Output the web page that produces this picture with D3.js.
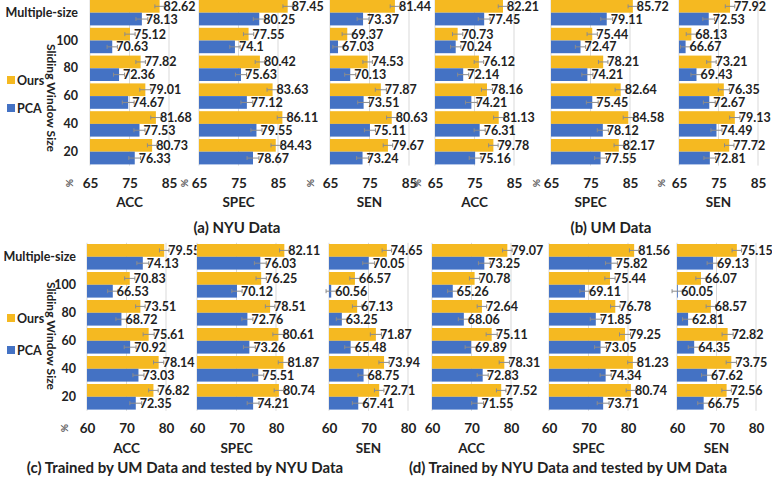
<!DOCTYPE html>
<html>
<head>
<meta charset="utf-8">
<script src="https://cdn.jsdelivr.net/npm/d3@7"></script>
<style>
  body { margin: 0; background: #fff; }
  svg { display: block; }
  text { font-family: Lato, "Open Sans", sans-serif; font-weight: bold; fill: #222; }
</style>
</head>
<body>
<svg id="chart" width="772" height="479"></svg>
<script>
// Window sizes (rows of every bar group) and metrics (one small plot each)
const categories = ["Multiple-size", "100", "80", "60", "40", "20"];
const metrics = ["ACC", "SPEC", "SEN"];
const seriesNames = ["Ours", "PCA"];
const topTicks = [65, 75, 85];
const bottomTicks = [60, 70, 80];

// Each list: rows are ACC, SPEC, SEN; columns follow `categories`
const nyuOurs = [
  [82.62, 75.12, 77.82, 79.01, 81.68, 80.73],
  [87.45, 77.55, 80.42, 83.63, 86.11, 84.43],
  [81.44, 69.37, 74.53, 77.87, 80.63, 79.67]
];
const nyuPca = [
  [78.13, 70.63, 72.36, 74.67, 77.53, 76.33],
  [80.25, 74.1, 75.63, 77.12, 79.55, 78.67],
  [73.37, 67.03, 70.13, 73.51, 75.11, 73.24]
];
const umOurs = [
  [82.21, 70.73, 76.12, 78.16, 81.13, 79.78],
  [85.72, 75.44, 78.21, 82.64, 84.58, 82.17],
  [77.92, 68.13, 73.21, 76.35, 79.13, 77.72]
];
const umPca = [
  [77.45, 70.24, 72.14, 74.21, 76.31, 75.16],
  [79.11, 72.47, 74.21, 75.45, 78.12, 77.55],
  [72.53, 66.67, 69.43, 72.67, 74.49, 72.81]
];
const umToNyuOurs = [
  [79.55, 70.83, 73.51, 75.61, 78.14, 76.82],
  [82.11, 76.25, 78.51, 80.61, 81.87, 80.74],
  [74.65, 66.57, 67.13, 71.87, 73.94, 72.71]
];
const umToNyuPca = [
  [74.13, 66.53, 68.72, 70.92, 73.03, 72.35],
  [76.03, 70.12, 72.76, 73.26, 75.51, 74.21],
  [70.05, 60.56, 63.25, 65.48, 68.75, 67.41]
];
const nyuToUmOurs = [
  [79.07, 70.78, 72.64, 75.11, 78.31, 77.52],
  [81.56, 75.44, 76.78, 79.25, 81.23, 80.74],
  [75.15, 66.07, 68.57, 72.82, 73.75, 72.56]
];
const nyuToUmPca = [
  [73.25, 65.26, 68.06, 69.89, 72.83, 71.55],
  [75.82, 69.11, 71.85, 73.05, 74.34, 73.71],
  [69.13, 60.05, 62.81, 64.35, 67.62, 66.75]
];
// Standard deviations drawn as error bars (per window size)
const errOurs = [1.2, 1.3, 1.2, 1.4, 1.3, 1.2];
const errPca = [1.5, 1.3, 1.4, 1.5, 1.4, 1.5];

const panelTitles = [
  "(a) NYU Data",
  "(b) UM Data",
  "(c) Trained by UM Data and tested by NYU Data",
  "(d) Trained by NYU Data and tested by UM Data"
];

const colors = { Ours: "#F5B921", PCA: "#4472C4" };

// Layout
const rows = [
  { y0: -1.2, y1: 165.6, tickY: 183, metricY: 202, titleY: 228, legendY: [80, 108],
    axisTitleY: 98, catRight: 78, domain: [65, 90], ticks: topTicks },
  { y0: 242.8, y1: 410.8, tickY: 428, metricY: 448, titleY: 468, legendY: [318, 350],
    axisTitleY: 336, catRight: 76, domain: [60, 85], ticks: bottomTicks }
];
const panels = [
  { title: panelTitles[0], ours: nyuOurs, pca: nyuPca, row: 0, lefts: [90, 199, 330],
    pct: [-20, -14, -19], titleX: 237, first: true },
  { title: panelTitles[1], ours: umOurs, pca: umPca, row: 0, lefts: [435, 551, 679],
    pct: [-17, -14, -17], titleX: 611, first: false },
  { title: panelTitles[2], ours: umToNyuOurs, pca: umToNyuPca, row: 1, lefts: [87, 197, 329],
    pct: [-22, null, null], titleX: 185, first: true },
  { title: panelTitles[3], ours: nyuToUmOurs, pca: nyuToUmPca, row: 1, lefts: [432, 549, 677],
    pct: [null, null, null], titleX: 568, first: false }
];
const plotWidth = 98.75;

const svg = d3.select("#chart");

panels.forEach(panel => {
  const row = rows[panel.row];
  const yGroup = d3.scaleBand().domain(categories).range([row.y0, row.y1])
    .paddingInner(0.086).paddingOuter(0.043);
  const ySeries = d3.scaleBand().domain(seriesNames).range([0, yGroup.bandwidth()]);

  metrics.forEach((metric, mi) => {
    const x0 = panel.lefts[mi];
    const x = d3.scaleLinear().domain(row.domain).range([x0, x0 + plotWidth]);
    const g = svg.append("g");

    // vertical gridlines incl. the value axis origin
    g.selectAll("line.grid").data([row.domain[0]].concat(row.ticks.slice(1)))
      .join("line").attr("class", "grid")
      .attr("x1", d => x(d)).attr("x2", d => x(d))
      .attr("y1", row.y0).attr("y2", row.y1)
      .attr("stroke", "#d9d9d9").attr("stroke-width", 1);

    const records = [];
    categories.forEach((c, ci) => {
      records.push({ cat: c, s: "Ours", v: panel.ours[mi][ci], e: errOurs[ci] });
      records.push({ cat: c, s: "PCA", v: panel.pca[mi][ci], e: errPca[ci] });
    });

    g.selectAll("rect.bar").data(records).join("rect").attr("class", "bar")
      .attr("x", x(row.domain[0]))
      .attr("y", d => yGroup(d.cat) + ySeries(d.s))
      .attr("width", d => Math.max(0.8, x(d.v) - x(row.domain[0])))
      .attr("height", ySeries.bandwidth())
      .attr("fill", d => colors[d.s]);

    // error bars
    const eb = g.selectAll("g.err").data(records).join("g").attr("class", "err")
      .attr("transform", d => `translate(0,${yGroup(d.cat) + ySeries(d.s) + ySeries.bandwidth() / 2})`);
    eb.append("line").attr("x1", d => x(d.v - d.e)).attr("x2", d => x(d.v + d.e))
      .attr("stroke", "#8c8c8c").attr("stroke-width", 1);
    eb.append("line").attr("x1", d => x(d.v - d.e)).attr("x2", d => x(d.v - d.e))
      .attr("y1", -2).attr("y2", 2).attr("stroke", "#8c8c8c");
    eb.append("line").attr("x1", d => x(d.v + d.e)).attr("x2", d => x(d.v + d.e))
      .attr("y1", -2).attr("y2", 2).attr("stroke", "#8c8c8c");

    // value labels
    g.selectAll("text.val").data(records).join("text").attr("class", "val")
      .attr("x", d => x(d.v) + 4)
      .attr("y", d => yGroup(d.cat) + ySeries(d.s) + ySeries.bandwidth() / 2)
      .attr("dy", "0.36em")
      .style("font-size", "12.5px")
      .text(d => String(d.v));

    // tick labels
    const axis = d3.axisBottom(x).tickValues(row.ticks).tickSize(0).tickPadding(0)
      .tickFormat(d3.format("d"));
    const ag = g.append("g").attr("transform", `translate(0,${row.tickY})`).call(axis);
    ag.select(".domain").remove();
    ag.selectAll("text").attr("dy", "0.36em").style("font-size", "13.5px")
      .style("font-family", "Lato, 'Open Sans', sans-serif").attr("fill", "#222");

    if (panel.pct[mi] !== null) {
      g.append("text")
        .attr("transform", `translate(${x0 + panel.pct[mi]},${row.tickY}) rotate(90)`)
        .attr("text-anchor", "middle").attr("dy", "0.36em")
        .style("font-size", "10px").style("fill", "#555")
        .text("%");
    }

    g.append("text").attr("x", x((row.ticks[0] + row.ticks[2]) / 2)).attr("y", row.metricY)
      .attr("text-anchor", "middle").attr("dy", "0.36em").style("font-size", "13.5px")
      .text(metric);

    // category axis for the first plot of the row
    if (panel.first && mi === 0) {
      const cax = d3.axisLeft(yGroup).tickSize(0).tickPadding(0);
      const cg = svg.append("g").attr("transform", `translate(${row.catRight},0)`).call(cax);
      cg.select(".domain").remove();
      cg.selectAll("text").style("font-size", "12.5px")
        .style("font-family", "Lato, 'Open Sans', sans-serif").attr("fill", "#222");

      svg.append("text")
        .attr("transform", `translate(51,${row.axisTitleY}) rotate(90)`)
        .attr("text-anchor", "middle").attr("dy", "0.36em").style("font-size", "12px")
        .text("Sliding Window Size");

      seriesNames.forEach((s, si) => {
        svg.append("rect").attr("x", 7).attr("y", row.legendY[si] - 4)
          .attr("width", 8).attr("height", 8).attr("fill", colors[s]);
        svg.append("text").attr("x", 17).attr("y", row.legendY[si]).attr("dy", "0.36em")
          .style("font-size", "12.5px").text(s);
      });
    }
  });

  svg.append("text").attr("x", panel.titleX).attr("y", row.titleY)
    .attr("text-anchor", "middle").attr("dy", "0.36em").style("font-size", "15px")
    .text(panel.title);
});
</script>
</body>
</html>
